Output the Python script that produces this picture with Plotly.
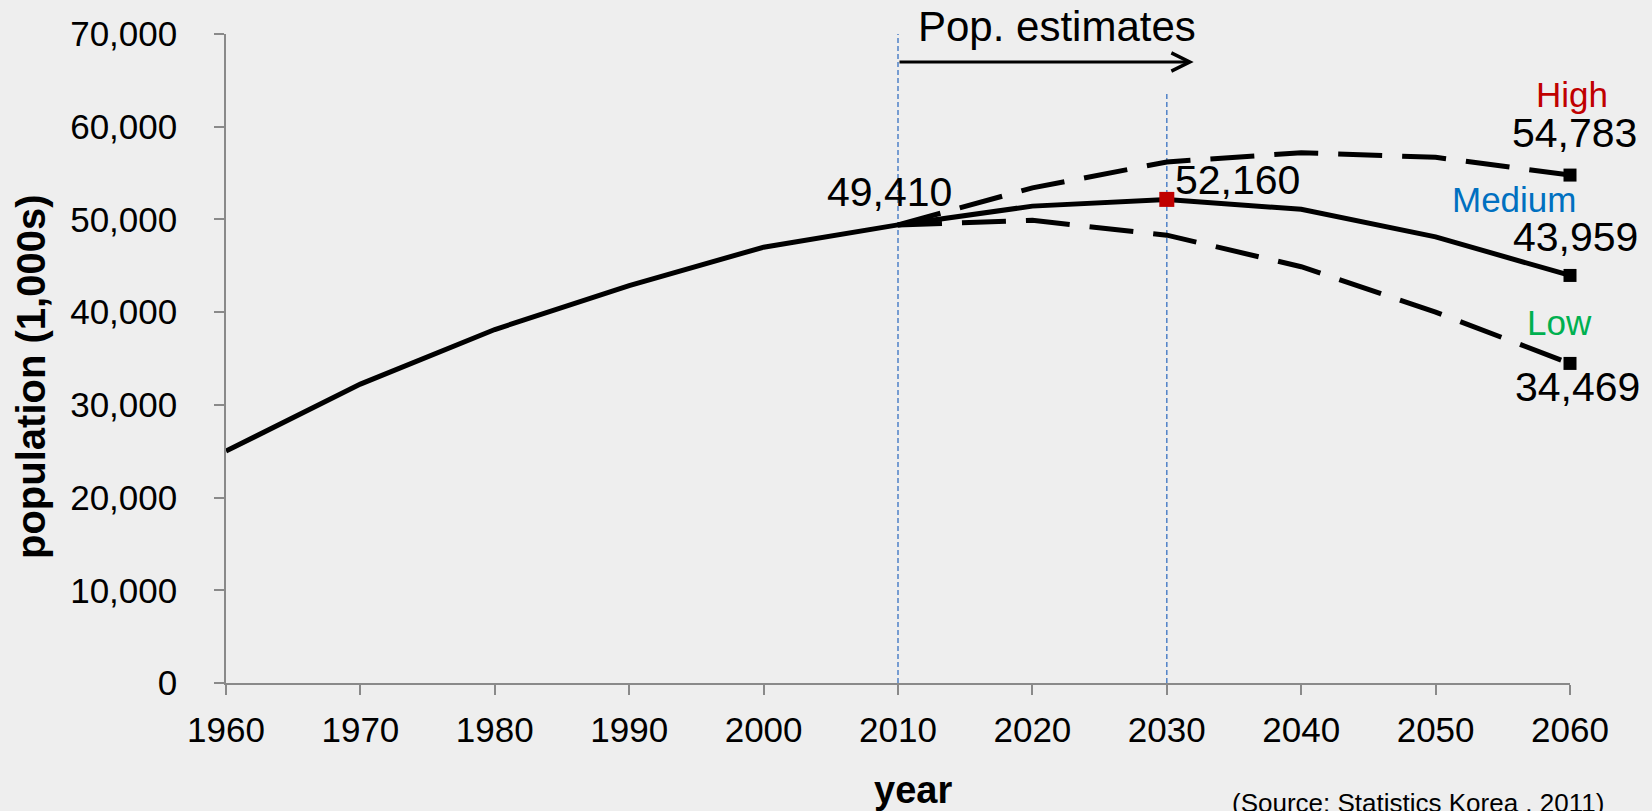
import plotly.graph_objects as go

# ---------------- data ----------------
years = [1960, 1970, 1980, 1990, 2000, 2010, 2020, 2030, 2040, 2050, 2060]
medium = [25012, 32241, 38124, 42869, 47008, 49410, 51435, 52160, 51091, 48121, 43959]
proj_years = [2010, 2020, 2030, 2040, 2050, 2060]
high = [49410, 53400, 56200, 57200, 56700, 54783]
low = [49410, 49900, 48300, 44900, 40000, 34469]

y_ticks = [0, 10000, 20000, 30000, 40000, 50000, 60000, 70000]
y_ticktext = ["0", "10,000", "20,000", "30,000", "40,000", "50,000", "60,000", "70,000"]

guide_years = [2010, 2030]
guide_tops = [70000, 63600]
arrow_start, arrow_end, arrow_level = 2010, 2032, 66980

# ---------------- layout geometry ----------------
W, H = 1652, 811
ML, MR, MT, MB = 226, 82, 34, 128
PW, PH = W - ML - MR, H - MT - MB


def px_x(px):
    return (px - ML) / PW


def px_y(py):
    return (H - MB - py) / PH


BG = "#EEEEEE"
AX = "#898989"
FONT = "Liberation Sans, Arial, sans-serif"

fig = go.Figure()

# projection lines (dashed)
for series in (high, low):
    fig.add_trace(go.Scatter(
        x=proj_years, y=series, mode="lines",
        line=dict(color="black", width=5, dash="44px,20px"),
        cliponaxis=False, hoverinfo="skip", showlegend=False))

# medium / estimates line (solid)
fig.add_trace(go.Scatter(
    x=years, y=medium, mode="lines",
    line=dict(color="black", width=5),
    cliponaxis=False, showlegend=False))

# end markers at 2060
fig.add_trace(go.Scatter(
    x=[proj_years[-1]] * 3, y=[high[-1], medium[-1], low[-1]], mode="markers",
    marker=dict(symbol="square", size=13, color="black"),
    cliponaxis=False, showlegend=False))

# red marker at 2030 on medium
i2030 = years.index(2030)
fig.add_trace(go.Scatter(
    x=[years[i2030]], y=[medium[i2030]], mode="markers",
    marker=dict(symbol="square", size=15, color="#C00000"),
    cliponaxis=False, showlegend=False))

# vertical dashed guides
for gx, gt in zip(guide_years, guide_tops):
    fig.add_shape(type="line", xref="x", yref="y", x0=gx, x1=gx, y0=0, y1=gt,
                  line=dict(color="#4F81C7", width=1.5, dash="5px,3px"), layer="below")

annotations = []

# arrow
annotations.append(dict(
    x=arrow_end, y=arrow_level, ax=arrow_start, ay=arrow_level,
    xref="x", yref="y", axref="x", ayref="y", text="", showarrow=True,
    arrowhead=5, arrowsize=1.2, arrowwidth=3, arrowcolor="black", standoff=0, startstandoff=0))

annotations.append(dict(
    x=px_x(1057), y=px_y(27), xref="paper", yref="paper", text="Pop. estimates",
    showarrow=False, font=dict(family=FONT, size=42, color="black"),
    xanchor="center", yanchor="middle"))


def point_label(x, y, text, dx, dy, size=41, color="black", xanchor="center"):
    annotations.append(dict(
        x=x, y=y, xref="x", yref="y", text=text, showarrow=False,
        xshift=dx, yshift=dy, xanchor=xanchor, yanchor="middle",
        font=dict(family=FONT, size=size, color=color)))


fmt = lambda v: f"{v:,}"
i2010 = years.index(2010)
point_label(years[i2010], medium[i2010], fmt(medium[i2010]), -9, 33)
point_label(years[i2030], medium[i2030], fmt(medium[i2030]), 6, 19, xanchor="left")
point_label(proj_years[-1], high[-1], fmt(high[-1]), 4, 42)
point_label(proj_years[-1], high[-1], "High", 2, 81, size=35, color="#C00000")
point_label(proj_years[-1], medium[-1], fmt(medium[-1]), 5, 38)
point_label(proj_years[-1], medium[-1], "Medium", -56, 76, size=35, color="#0070C0")
point_label(proj_years[-1], low[-1], fmt(low[-1]), 7, -24)
point_label(proj_years[-1], low[-1], "Low", -11, 41, size=35, color="#00B050")

# axis titles
annotations.append(dict(
    x=px_x(31), y=px_y(376), xref="paper", yref="paper", text="<b>population (1,000s)</b>",
    textangle=-90, showarrow=False, font=dict(family=FONT, size=40, color="black"),
    xanchor="center", yanchor="middle"))
annotations.append(dict(
    x=px_x(913), y=px_y(790), xref="paper", yref="paper", text="<b>year</b>",
    showarrow=False, font=dict(family=FONT, size=38, color="black"),
    xanchor="center", yanchor="middle"))
annotations.append(dict(
    x=px_x(1418), y=px_y(803), xref="paper", yref="paper",
    text="(Source: Statistics Korea , 2011)",
    showarrow=False, font=dict(family=FONT, size=26, color="black"),
    xanchor="center", yanchor="middle"))

fig.update_layout(
    width=W, height=H, autosize=False,
    margin=dict(l=ML, r=MR, t=MT, b=MB, pad=0),
    paper_bgcolor=BG, plot_bgcolor=BG,
    showlegend=False,
    annotations=annotations,
    xaxis=dict(range=[1960, 2060], tickmode="array", tickvals=years,
               ticks="outside", ticklen=10, tickwidth=1.5, tickcolor=AX,
               showline=True, linecolor=AX, linewidth=1.5, showgrid=False, zeroline=False,
               tickfont=dict(family=FONT, size=35, color="black"),
               ticklabelstandoff=5),
    yaxis=dict(range=[0, 70000], tickmode="array", tickvals=y_ticks, ticktext=y_ticktext,
               ticks="outside", ticklen=10, tickwidth=1.5, tickcolor=AX,
               showline=True, linecolor=AX, linewidth=1.5, showgrid=False, zeroline=False,
               tickfont=dict(family=FONT, size=35, color="black"),
               ticklabelstandoff=30),
)

fig.write_html("out.html", config={"displayModeBar": False},
               post_script="document.body.style.margin='0';document.body.style.background='#EEEEEE';")
